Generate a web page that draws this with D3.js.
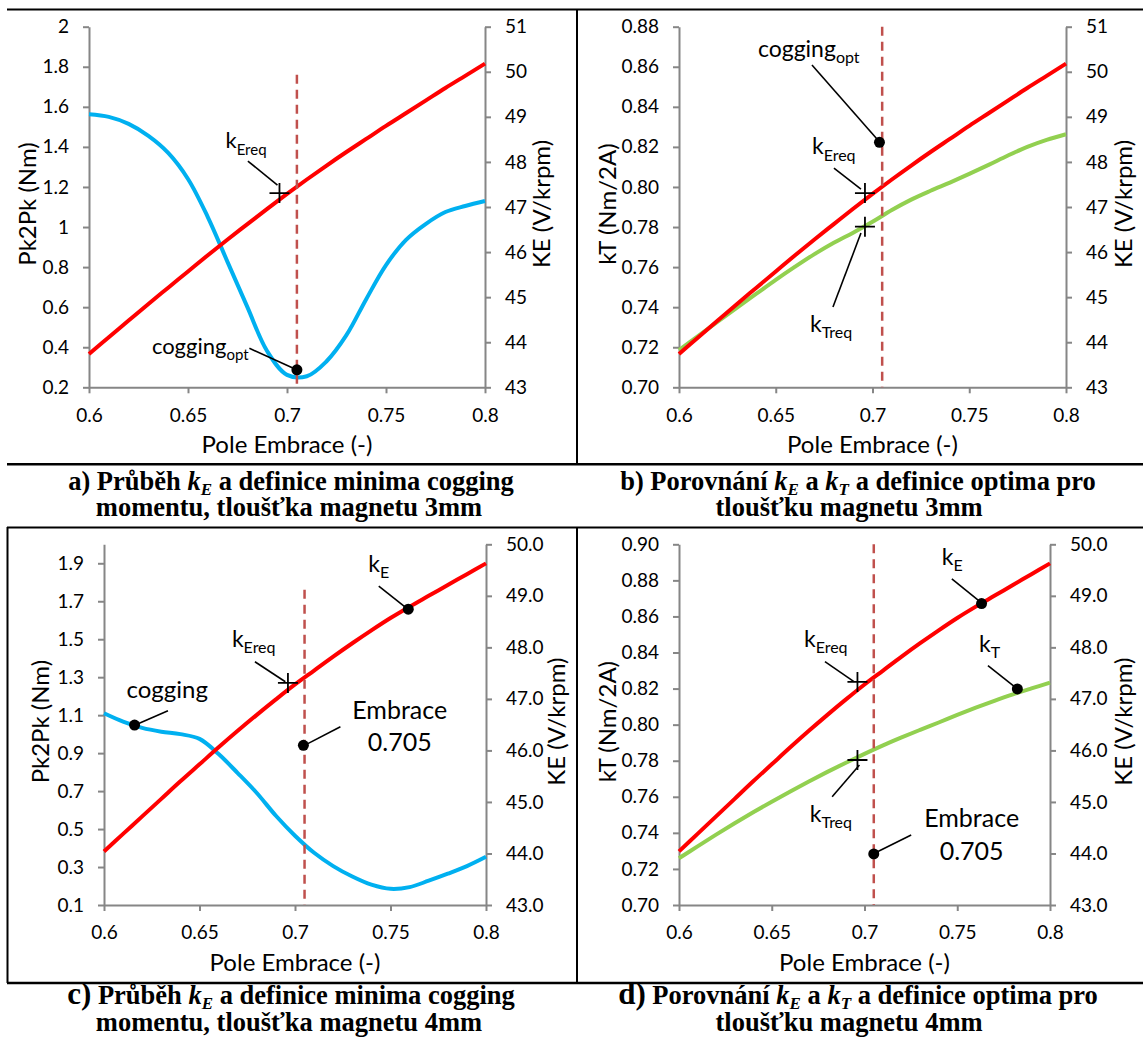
<!DOCTYPE html>
<html><head><meta charset="utf-8">
<script src="https://cdn.jsdelivr.net/npm/d3@7"></script>
<style>
body{margin:0;background:#fff}
svg{display:block}
</style>
</head><body>
<svg id="chart" width="1143" height="1050"></svg>
<script>
// ---------------- DATA ----------------
const poleEmbrace = [0.60,0.61,0.62,0.63,0.64,0.65,0.66,0.67,0.68,0.69,0.70,0.71,0.72,0.73,0.74,0.75,0.76,0.77,0.78,0.79,0.80];
// magnet thickness 3 mm
const keMag3      = [43.74,44.11,44.48,44.85,45.21,45.57,45.93,46.28,46.62,46.96,47.29,47.61,47.92,48.22,48.51,48.80,49.08,49.36,49.64,49.91,50.18];
const coggingMag3 = [1.563,1.550,1.515,1.455,1.370,1.240,1.050,0.825,0.600,0.380,0.262,0.255,0.330,0.460,0.640,0.810,0.935,1.015,1.075,1.105,1.130];
const ktMag3      = [0.7186,0.7257,0.7328,0.7398,0.7467,0.7536,0.7602,0.7665,0.7722,0.7772,0.7826,0.7885,0.7937,0.7981,0.8022,0.8065,0.8110,0.8157,0.8200,0.8235,0.8263];
// magnet thickness 4 mm
const keMag4      = [44.04,44.38,44.72,45.06,45.40,45.73,46.06,46.38,46.69,46.99,47.28,47.55,47.82,48.08,48.33,48.57,48.79,49.00,49.21,49.42,49.63];
const coggingMag4 = [1.110,1.066,1.033,1.013,1.000,0.975,0.895,0.795,0.690,0.570,0.465,0.375,0.305,0.250,0.207,0.185,0.194,0.228,0.265,0.305,0.354];
const ktMag4      = [0.7259,0.7325,0.7390,0.7453,0.7514,0.7573,0.7630,0.7685,0.7738,0.7789,0.7838,0.7885,0.7929,0.7971,0.8012,0.8054,0.8094,0.8132,0.8168,0.8201,0.8233];

const xTicks        = [0.6,0.65,0.7,0.75,0.8];
const pk2pkTicksA   = [0.2,0.4,0.6,0.8,1,1.2,1.4,1.6,1.8,2];
const keTicksAB     = [43,44,45,46,47,48,49,50,51];
const ktTicksB      = [0.70,0.72,0.74,0.76,0.78,0.80,0.82,0.84,0.86,0.88];
const pk2pkTicksC   = [0.1,0.3,0.5,0.7,0.9,1.1,1.3,1.5,1.7,1.9];
const keTicksCD     = [43,44,45,46,47,48,49,50];
const ktTicksD      = [0.70,0.72,0.74,0.76,0.78,0.80,0.82,0.84,0.86,0.88,0.90];

const embraceOpt = 0.705;

const pointsA = [
  {name:'kEreq',      kind:'cross', x:0.6962, y:47.31, axis:'right'},
  {name:'coggingOpt', kind:'dot',   x:0.705,  y:0.287, axis:'left'}
];
const pointsB = [
  {name:'coggingOpt', kind:'dot',   x:0.7036, y:0.8223, axis:'left'},
  {name:'kEreq',      kind:'cross', x:0.6961, y:47.31,  axis:'right'},
  {name:'kTreq',      kind:'cross', x:0.6961, y:0.7802, axis:'left'}
];
const pointsC = [
  {name:'cogging', kind:'dot',   x:0.616,  y:1.048, axis:'left'},
  {name:'kEreq',   kind:'cross', x:0.6963, y:47.31, axis:'right'},
  {name:'kE',      kind:'dot',   x:0.7593, y:48.74, axis:'right'},
  {name:'embrace', kind:'dot',   x:0.7044, y:0.941, axis:'left'}
];
const pointsD = [
  {name:'kE',      kind:'dot',   x:0.7631, y:48.85,  axis:'right'},
  {name:'kT',      kind:'dot',   x:0.7824, y:0.8198, axis:'left'},
  {name:'kEreq',   kind:'cross', x:0.6962, y:47.33,  axis:'right'},
  {name:'kTreq',   kind:'cross', x:0.6962, y:0.7804, axis:'left'},
  {name:'embrace', kind:'dot',   x:0.705,  y:0.7283, axis:'left'}
];

// ---------------- LAYOUT / STYLE ----------------
const FONT = "Lato, 'Open Sans', sans-serif";
const SERIF = "'Liberation Serif', 'Times New Roman', serif";
const AXIS_GRAY = '#868686';
const RED = '#FF0000', BLUE = '#00B0F0', GREEN = '#92D050', DASH = '#C0504D';

const fmtG = d3.format('~g');
const fmt1 = d3.format('.1f');
const fmt2 = d3.format('.2f');
const fmt0 = d3.format('d');

const panels = [
  { id:'A', left:89, right:485, top:26.7, bottom:387.3,
    yL:[0.2,2], yR:[43,51], yLTicks:pk2pkTicksA, yRTicks:keTicksAB, yLFmt:fmtG, yRFmt:fmt0,
    yLTitle:'Pk2Pk (Nm)', yLTitleX:27.5, yRTitle:'KE (V/krpm)', yRTitleX:542,
    series:[{vals:coggingMag3, axis:'left', color:BLUE},{vals:keMag3, axis:'right', color:RED}],
    dashTop:1.76, points:pointsA,
    labels:{
      kEreq:{parts:['k','Ereq'], dx:-54, dy:-44.7, size:22, leader:[-31.6,-32,-2,-8]},
      coggingOpt:{parts:['cogging','opt'], dx:-145, dy:-16, size:22, leader:[-47.5,-21.6,-3.5,-1.6]}
    }},
  { id:'B', left:679, right:1066, top:26.7, bottom:387.3,
    yL:[0.70,0.88], yR:[43,51], yLTicks:ktTicksB, yRTicks:keTicksAB, yLFmt:fmt2, yRFmt:fmt0,
    yLTitle:'kT (Nm/2A)', yLTitleX:608, yRTitle:'KE (V/krpm)', yRTitleX:1124,
    series:[{vals:ktMag3, axis:'left', color:GREEN},{vals:keMag3, axis:'right', color:RED}],
    dashTop:0.88, points:pointsB,
    labels:{
      coggingOpt:{parts:['cogging','opt'], dx:-121.5, dy:-85.6, size:23, leader:[-67.5,-77.3,-2.5,-3.3]},
      kEreq:{parts:['k','Ereq'], dx:-53, dy:-39, size:23, leader:[-31,-25,-4,-4]},
      kTreq:{parts:['k','Treq'], dx:-55, dy:105, size:23, leader:[-32,80.4,-4,6.4]}
    }},
  { id:'C', left:104, right:486, top:544.3, bottom:905,
    yL:[0.1,2.0], yR:[43,50], yLTicks:pk2pkTicksC, yRTicks:keTicksCD, yLFmt:fmt1, yRFmt:fmt1,
    yLTitle:'Pk2Pk (Nm)', yLTitleX:41, yRTitle:'KE (V/krpm)', yRTitleX:557,
    series:[{vals:coggingMag4, axis:'left', color:BLUE},{vals:keMag4, axis:'right', color:RED}],
    dashTop:1.76, points:pointsC,
    labels:{
      cogging:{parts:['cogging'], dx:-8, dy:-27, size:24, leader:[33.4,-14.3,3,-1]},
      kEreq:{parts:['k','Ereq'], dx:-56, dy:-36.2, size:23, leader:[-33,-21.2,-2.6,-1.2]},
      kE:{parts:['k','E'], dx:-40, dy:-37.5, size:23, leader:[-29.5,-23.2,-3,-2]},
      embrace:{lines:['Embrace','0.705'], dx:96.3, dy:-26.5, gap:31.7, size:25, leader:[37,-18.6,3,-1]}
    }},
  { id:'D', left:679, right:1050, top:544.3, bottom:905,
    yL:[0.70,0.90], yR:[43,50], yLTicks:ktTicksD, yRTicks:keTicksCD, yLFmt:fmt2, yRFmt:fmt1,
    yLTitle:'kT (Nm/2A)', yLTitleX:608, yRTitle:'KE (V/krpm)', yRTitleX:1124,
    series:[{vals:ktMag4, axis:'left', color:GREEN},{vals:keMag4, axis:'right', color:RED}],
    dashTop:0.90, points:pointsD,
    labels:{
      kE:{parts:['k','E'], dx:-39.8, dy:-38.6, size:23, leader:[-29.7,-24.6,-2.5,-2.6]},
      kT:{parts:['k','T'], dx:-38.4, dy:-37.3, size:23, leader:[-29.4,-23.3,-2.9,-2.3]},
      kEreq:{parts:['k','Ereq'], dx:-53.5, dy:-35.2, size:23, leader:[-32.5,-20.2,-3.5,-0.2]},
      kTreq:{parts:['k','Treq'], dx:-47.7, dy:61.7, size:23, leader:[-25.3,36.7,2,5]},
      embrace:{lines:['Embrace','0.705'], dx:97.9, dy:-27, gap:33, size:25, leader:[37.4,-19,3.7,-2.3]}
    }}
];

const svg = d3.select('#chart');

// ---------------- FRAME ----------------
const frame = svg.append('g').attr('stroke','#000').attr('fill','none');
frame.append('line').attr('x1',7).attr('x2',1143).attr('y1',9.5).attr('y2',9.5).attr('stroke-width',2);
frame.append('line').attr('x1',577).attr('x2',577).attr('y1',9.5).attr('y2',464).attr('stroke-width',2);
frame.append('line').attr('x1',7).attr('x2',1143).attr('y1',464.3).attr('y2',464.3).attr('stroke-width',2.5);
frame.append('line').attr('x1',7).attr('x2',1143).attr('y1',527.6).attr('y2',527.6).attr('stroke-width',2);
frame.append('line').attr('x1',7.5).attr('x2',7.5).attr('y1',527).attr('y2',983).attr('stroke-width',2);
frame.append('line').attr('x1',577).attr('x2',577).attr('y1',527).attr('y2',983).attr('stroke-width',2);
frame.append('line').attr('x1',7).attr('x2',1143).attr('y1',983).attr('y2',983).attr('stroke-width',2.5);

function styleAxis(g){
  g.select('.domain').attr('stroke',AXIS_GRAY).attr('stroke-width',2);
  g.selectAll('.tick line').attr('stroke',AXIS_GRAY).attr('stroke-width',2);
  g.selectAll('.tick text').attr('font-family',FONT).attr('font-size',19).attr('fill','#000');
}

panels.forEach(p => {
  const x  = d3.scaleLinear().domain([0.6,0.8]).range([p.left,p.right]);
  const yL = d3.scaleLinear().domain(p.yL).range([p.bottom,p.top]);
  const yR = d3.scaleLinear().domain(p.yR).range([p.bottom,p.top]);
  const g = svg.append('g');

  // axes
  g.append('g').attr('transform',`translate(0,${p.bottom})`)
    .call(d3.axisBottom(x).tickValues(xTicks).tickFormat(fmtG).tickSize(6).tickSizeOuter(0).tickPadding(15))
    .call(styleAxis);
  g.append('g').attr('transform',`translate(${p.left},0)`)
    .call(d3.axisLeft(yL).tickValues(p.yLTicks).tickFormat(p.yLFmt).tickSize(6).tickSizeOuter(0).tickPadding(14))
    .call(styleAxis);
  g.append('g').attr('transform',`translate(${p.right},0)`)
    .call(d3.axisRight(yR).tickValues(p.yRTicks).tickFormat(p.yRFmt).tickSize(6).tickSizeOuter(0).tickPadding(14))
    .call(styleAxis);

  // axis titles
  const mid = (p.top+p.bottom)/2 - 3;
  g.append('text').attr('x',(p.left+p.right)/2).attr('y',p.bottom+57.5).attr('dy','0.35em')
    .attr('text-anchor','middle').attr('font-family',FONT).attr('font-size',24).text('Pole Embrace (-)');
  g.append('text').attr('transform',`translate(${p.yLTitleX},${mid}) rotate(-90)`).attr('dy','0.35em')
    .attr('text-anchor','middle').attr('font-family',FONT).attr('font-size',24).text(p.yLTitle);
  g.append('text').attr('transform',`translate(${p.yRTitleX},${mid}) rotate(-90)`).attr('dy','0.35em')
    .attr('text-anchor','middle').attr('font-family',FONT).attr('font-size',24).text(p.yRTitle);

  // series
  p.series.forEach(s => {
    const ys = s.axis === 'left' ? yL : yR;
    const line = d3.line().x((d,i)=>x(poleEmbrace[i])).y(d=>ys(d)).curve(d3.curveCatmullRom.alpha(0.5));
    g.append('path').attr('d',line(s.vals)).attr('fill','none').attr('stroke',s.color)
      .attr('stroke-width',4).attr('stroke-linejoin','round').attr('stroke-linecap','butt');
  });

  // dashed optimum line
  g.append('line').attr('x1',x(embraceOpt)).attr('x2',x(embraceOpt))
    .attr('y1',yL(p.dashTop)).attr('y2',p.bottom)
    .attr('stroke',DASH).attr('stroke-width',2.5).attr('stroke-dasharray','9,6');

  // annotations
  p.points.forEach(pt => {
    const px = x(pt.x);
    const py = (pt.axis === 'left' ? yL : yR)(pt.y);
    const lab = p.labels[pt.name];
    const L = lab.leader;
    g.append('line').attr('x1',px+L[0]).attr('y1',py+L[1]).attr('x2',px+L[2]).attr('y2',py+L[3])
      .attr('stroke','#000').attr('stroke-width',1.6);
    if (pt.kind === 'dot') {
      g.append('circle').attr('cx',px).attr('cy',py).attr('r',5.5).attr('fill','#000');
    } else {
      g.append('path').attr('d',`M${px-10},${py}H${px+10}M${px},${py-10}V${py+10}`)
        .attr('stroke','#000').attr('stroke-width',1.8).attr('fill','none');
    }
    if (lab.lines) {
      lab.lines.forEach((t,i) => {
        g.append('text').attr('x',px+lab.dx).attr('y',py+lab.dy+i*lab.gap)
          .attr('text-anchor','middle').attr('font-family',FONT).attr('font-size',lab.size).text(t);
      });
    } else {
      const t = g.append('text').attr('x',px+lab.dx).attr('y',py+lab.dy)
        .attr('font-family',FONT).attr('font-size',lab.size);
      t.append('tspan').text(lab.parts[0]);
      if (lab.parts[1]) t.append('tspan').attr('font-size',Math.round(lab.size*0.68)).attr('dy',6.5).text(lab.parts[1]);
    }
  });
});

// ---------------- CAPTIONS ----------------
const captions = [
  {cx:291, y:490, parts:[{t:'a) Průběh '},{t:'k',i:1},{t:'E',i:1,s:1},{t:' a definice minima cogging'}]},
  {cx:289, y:516, parts:[{t:'momentu, tloušťka magnetu 3mm'}]},
  {cx:858, y:490, parts:[{t:'b) Porovnání '},{t:'k',i:1},{t:'E',i:1,s:1},{t:' a '},{t:'k',i:1},{t:'T',i:1,s:1},{t:' a definice optima pro'}]},
  {cx:849, y:516, parts:[{t:'tloušťku magnetu 3mm'}]},
  {cx:291, y:1004, parts:[{t:'c)',b:1},{t:' Průběh '},{t:'k',i:1},{t:'E',i:1,s:1},{t:' a definice minima cogging'}]},
  {cx:289, y:1031, parts:[{t:'momentu, tloušťka magnetu 4mm'}]},
  {cx:858, y:1004, parts:[{t:'d)',b:1},{t:' Porovnání '},{t:'k',i:1},{t:'E',i:1,s:1},{t:' a '},{t:'k',i:1},{t:'T',i:1,s:1},{t:' a definice optima pro'}]},
  {cx:849, y:1031, parts:[{t:'tloušťku magnetu 4mm'}]}
];
captions.forEach(c => {
  const t = svg.append('text').attr('x',c.cx).attr('y',c.y).attr('text-anchor','middle')
    .attr('font-family',SERIF).attr('font-weight','bold').attr('font-size',26.5).attr('fill','#000');
  let shifted = false;
  c.parts.forEach(p => {
    const ts = t.append('tspan').text(p.t);
    if (p.i) ts.attr('font-style','italic');
    if (p.b) ts.attr('font-size',31);
    if (p.s) { ts.attr('font-size',17).attr('dy',5); shifted = true; }
    else if (shifted) { ts.attr('dy',-5); shifted = false; }
  });
});
</script>
</body></html>
